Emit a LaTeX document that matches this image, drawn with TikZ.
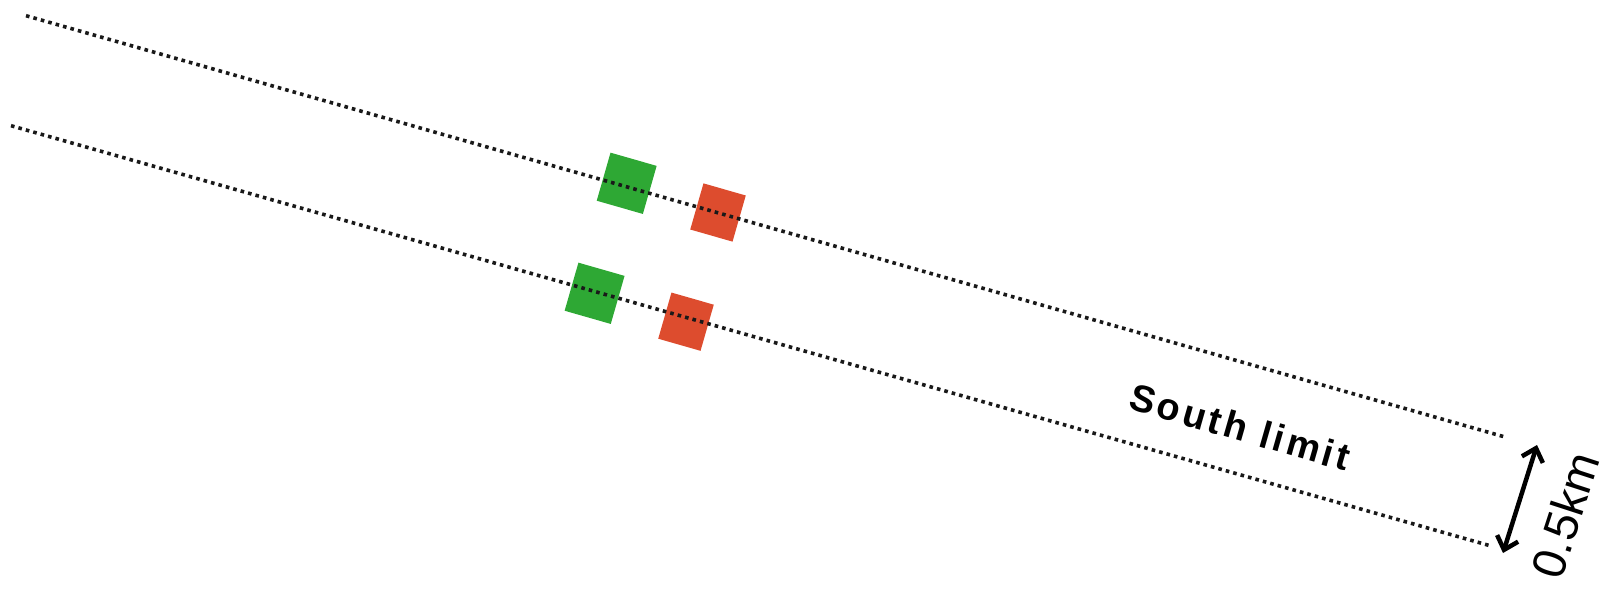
\documentclass[tikz,border=0pt]{standalone}
\usepackage{fontspec}
\setmainfont{Liberation Sans}
\usetikzlibrary{arrows.meta}
\definecolor{sqgreen}{RGB}{46,168,52}
\definecolor{sqred}{RGB}{221,76,46}
\definecolor{dotgray}{RGB}{25,25,25}
\tikzset{
  dotline/.style={draw=dotgray, line width=3.6pt, line cap=butt, dash pattern=on 3.6pt off 4.1pt},
  gsq/.style={fill=sqgreen, draw=none, minimum width=48pt, minimum height=50pt, inner sep=0pt, rotate=-16},
  rsq/.style={fill=sqred, draw=none, minimum width=44pt, minimum height=48pt, inner sep=0pt, rotate=-16},
  dimarrow/.style={line width=4.5pt, {Straight Barb[length=12pt,width=22pt]}-{Straight Barb[length=12pt,width=22pt]}}
}
\begin{document}
\begin{tikzpicture}[x=1pt,y=-1pt]
\useasboundingbox (0,0) rectangle (1614,591);
\node[gsq] (g1) at (626.7,183.3) {};
\node[rsq] (r1) at (718,212.5) {};
\node[gsq] (g2) at (594.6,293.3) {};
\node[rsq] (r2) at (686,321.7) {};
\coordinate (t1) at (26,15.7);
\coordinate (t2) at (1505,437);
\coordinate (b1) at (11,125.7);
\coordinate (b2) at (1490,545.7);
\draw[dotline] (t1) -- (t2);
\draw[dotline] (b1) -- (b2);
\node[rotate=-16, font=\fontsize{38}{42}\selectfont\bfseries\addfontfeature{LetterSpace=9}] (south) at (1240,427) {South limit};
\coordinate (a1) at (1537,445);
\coordinate (a2) at (1503,553);
\draw[dimarrow] (a2) -- (a1);
\node[rotate=72, font=\fontsize{47}{50}\selectfont] (km) at (1565,515) {0.5km};
\end{tikzpicture}
\end{document}
